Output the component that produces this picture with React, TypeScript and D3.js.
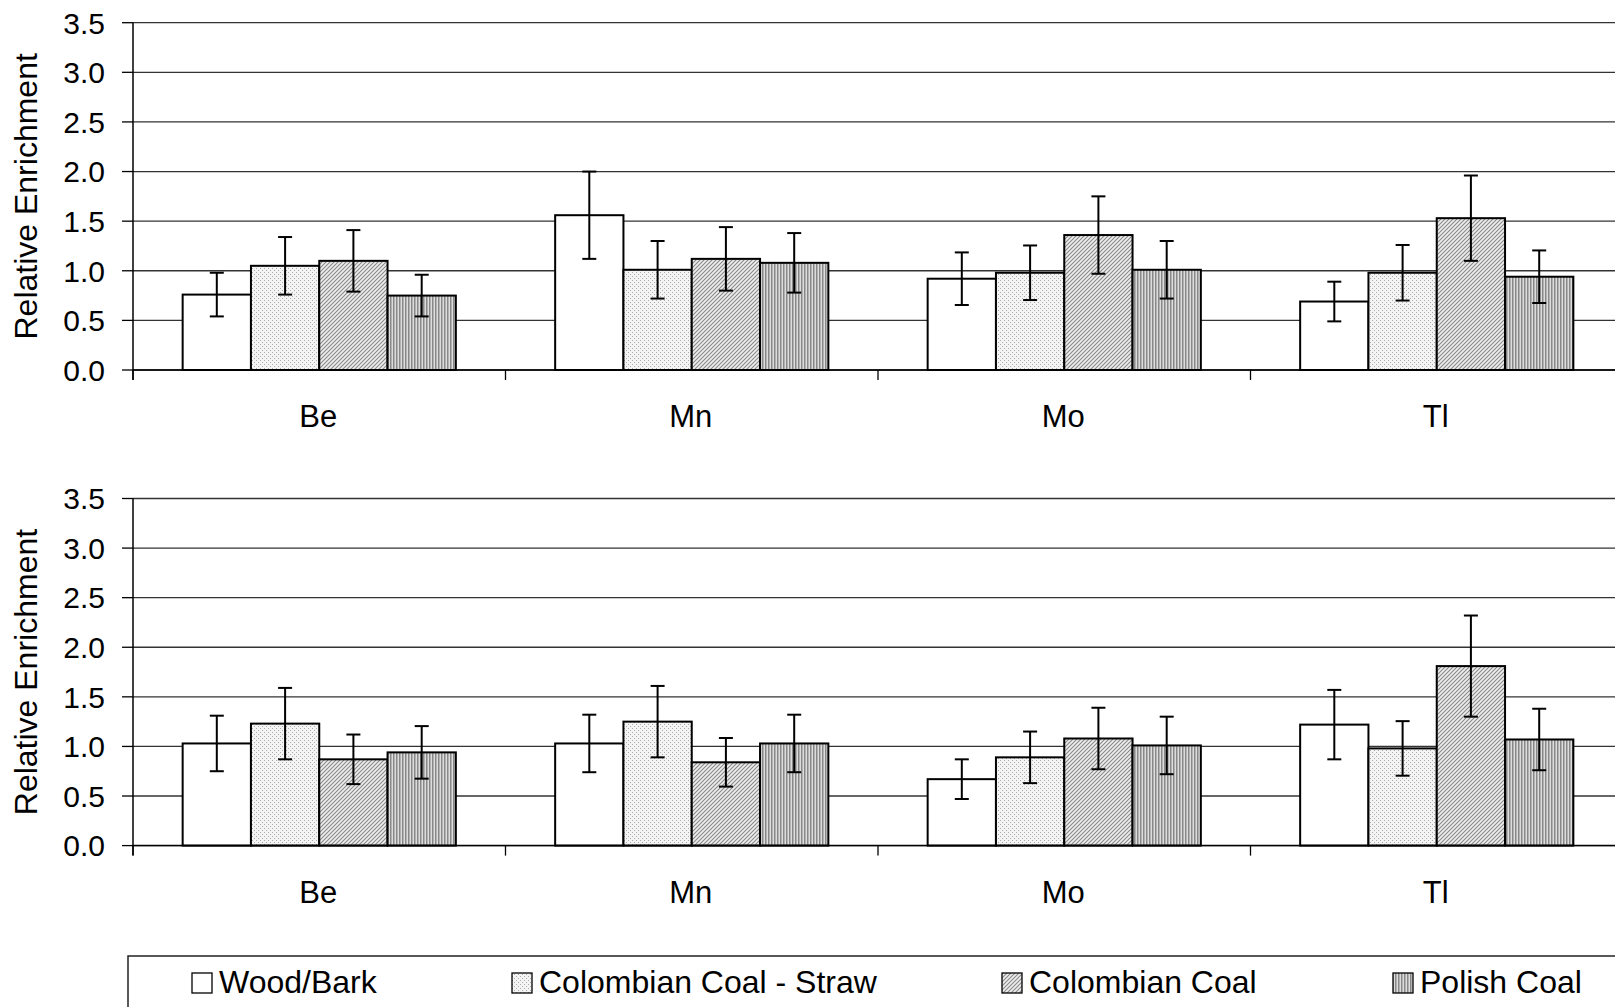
import React from 'react';
import * as d3 from 'd3';

const categories = ['Be', 'Mn', 'Mo', 'Tl'];
const seriesNames = ['Wood/Bark', 'Colombian Coal - Straw', 'Colombian Coal', 'Polish Coal'];
const yTicks = [0, 0.5, 1, 1.5, 2, 2.5, 3, 3.5];

// top panel: values per series, one entry per category
const topValues = [
  [0.76, 1.56, 0.92, 0.69],
  [1.05, 1.01, 0.98, 0.98],
  [1.10, 1.12, 1.36, 1.53],
  [0.75, 1.08, 1.01, 0.94],
];
const topErrors = [
  [0.22, 0.44, 0.265, 0.2],
  [0.29, 0.29, 0.275, 0.28],
  [0.31, 0.32, 0.39, 0.43],
  [0.21, 0.3, 0.29, 0.265],
];

// bottom panel
const bottomValues = [
  [1.03, 1.03, 0.67, 1.22],
  [1.23, 1.25, 0.89, 0.98],
  [0.87, 0.84, 1.08, 1.81],
  [0.94, 1.03, 1.01, 1.07],
];
const bottomErrors = [
  [0.28, 0.29, 0.2, 0.35],
  [0.36, 0.36, 0.26, 0.275],
  [0.25, 0.245, 0.31, 0.51],
  [0.265, 0.29, 0.29, 0.31],
];

const W = 1615;
const H = 1007;
const left = 133;
const right = 1623;
const fills = ['#ffffff', 'url(#pStraw)', 'url(#pColo)', 'url(#pPolish)'];
const font = '"Liberation Sans", Arial, sans-serif';

const x0 = d3.scaleBand<string>().domain(categories).range([left, right]).padding(0);
const x1 = d3.scaleBand<string>().domain(seriesNames).range([0, x0.bandwidth()]).paddingInner(0).paddingOuter(0.727);

function Panel({ top, bottom, values, errors }: { top: number; bottom: number; values: number[][]; errors: number[][] }) {
  const y = d3.scaleLinear().domain([0, 3.5]).range([bottom, top]);
  const cap = 7;
  return (
    <g>
      {yTicks.map((t) => (
        <g key={t}>
          <line x1={left} x2={right} y1={y(t)} y2={y(t)} stroke="#333" strokeWidth={1.3} />
          <line x1={left - 11} x2={left} y1={y(t)} y2={y(t)} stroke="#000" strokeWidth={1.3} />
          <text x={105} y={y(t)} textAnchor="end" dy="0.36em" fontSize={30} fontFamily={font}>
            {t.toFixed(1)}
          </text>
        </g>
      ))}
      {categories.map((c, ci) =>
        seriesNames.map((s, si) => {
          const v = values[si][ci];
          const e = errors[si][ci];
          const bx = x0(c)! + x1(s)!;
          const cx = bx + x1.bandwidth() / 2;
          return (
            <g key={c + s}>
              <rect x={bx} y={y(v)} width={x1.bandwidth()} height={y(0) - y(v)} fill={fills[si]} stroke="#000" strokeWidth={2} />
              <line x1={cx} x2={cx} y1={y(v + e)} y2={y(v - e)} stroke="#000" strokeWidth={2} />
              <line x1={cx - cap} x2={cx + cap} y1={y(v + e)} y2={y(v + e)} stroke="#000" strokeWidth={2} />
              <line x1={cx - cap} x2={cx + cap} y1={y(v - e)} y2={y(v - e)} stroke="#000" strokeWidth={2} />
            </g>
          );
        })
      )}
      <line x1={left} x2={left} y1={top} y2={bottom + 10} stroke="#000" strokeWidth={1.5} />
      <line x1={left} x2={right} y1={bottom} y2={bottom} stroke="#000" strokeWidth={1.5} />
      {categories.map((c) => (
        <line key={c} x1={x0(c)!} x2={x0(c)!} y1={bottom} y2={bottom + 10} stroke="#000" strokeWidth={1.3} />
      ))}
      {categories.map((c) => (
        <text key={c} x={x0(c)! + x0.bandwidth() / 2 - 1} y={bottom + 57} textAnchor="middle" fontSize={31} fontFamily={font}>
          {c}
        </text>
      ))}
      <text
        transform={`translate(37,${(top + bottom) / 2}) rotate(-90)`}
        textAnchor="middle"
        fontSize={32}
        fontFamily={font}
      >
        Relative Enrichment
      </text>
    </g>
  );
}

export default function App() {
  const legendX = [192, 512, 1002, 1393];
  return (
    <svg width={W} height={H} style={{ position: 'absolute', left: 0, top: 0, background: '#fff' }}>
      <defs>
        <pattern id="pStraw" width={4} height={4} patternUnits="userSpaceOnUse">
          <rect width={4} height={4} fill="#f4f4f4" />
          <rect x={0} y={0} width={1} height={1} fill="#aaa" />
          <rect x={2} y={2} width={1} height={1} fill="#aaa" />
        </pattern>
        <pattern id="pColo" width={4} height={4} patternUnits="userSpaceOnUse">
          <rect width={4} height={4} fill="#eee" />
          <path d="M-1,1 L1,-1 M0,4 L4,0 M3,5 L5,3" stroke="#888" strokeWidth={1.1} />
        </pattern>
        <pattern id="pPolish" width={3} height={3} patternUnits="userSpaceOnUse">
          <rect width={3} height={3} fill="#ddd" />
          <rect x={0} width={1.5} height={3} fill="#888" />
        </pattern>
      </defs>
      <Panel top={22.7} bottom={370} values={topValues} errors={topErrors} />
      <Panel top={498.5} bottom={845.6} values={bottomValues} errors={bottomErrors} />
      <rect x={128} y={956} width={1600} height={100} fill="none" stroke="#222" strokeWidth={1.5} />
      {seriesNames.map((s, i) => (
        <g key={s}>
          <rect x={legendX[i]} y={973} width={20} height={20} fill={fills[i]} stroke="#000" strokeWidth={1.3} />
          <text x={legendX[i] + 27} y={993} fontSize={32} fontFamily={font}>
            {s}
          </text>
        </g>
      ))}
    </svg>
  );
}
